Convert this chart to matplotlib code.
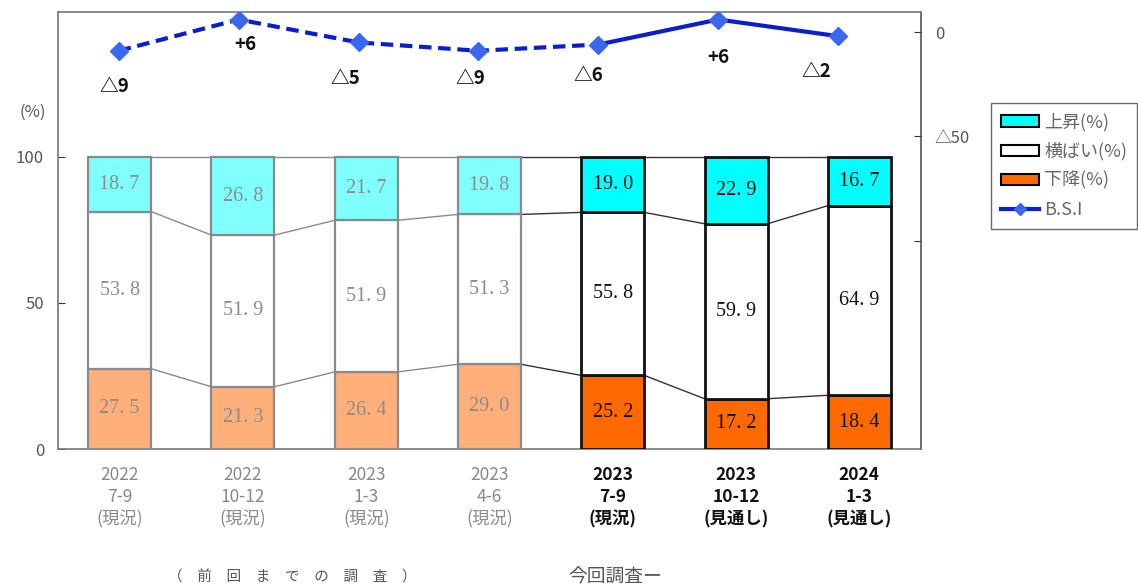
import matplotlib
matplotlib.use("Agg")
import matplotlib.pyplot as plt
from matplotlib.patches import Patch
from matplotlib.lines import Line2D
import numpy as np

# ---- data ----
periods = ["2022\n7-9\n(現況)", "2022\n10-12\n(現況)", "2023\n1-3\n(現況)", "2023\n4-6\n(現況)",
           "2023\n7-9\n(現況)", "2023\n10-12\n(見通し)", "2024\n1-3\n(見通し)"]
rise = [18.7, 26.8, 21.7, 19.8, 19.0, 22.9, 16.7]
flat = [53.8, 51.9, 51.9, 51.3, 55.8, 59.9, 64.9]
fall = [27.5, 21.3, 26.4, 29.0, 25.2, 17.2, 18.4]
bsi = [-9, 6, -5, -9, -6, 6, -2]
n_previous = 4  # surveys before the current one

# ---- styles ----
JP = ["Noto Sans CJK JP", "DejaVu Sans"]
SERIF = ["Liberation Serif", "DejaVu Serif"]
old_style = dict(up="#80FFFF", down="#FFB07A", edge="#8A8A8A", text="#8C8C8C", lw=1.6)
new_style = dict(up="#00FFFF", down="#FF6A00", edge="#111111", text="#111111", lw=2.0)
bsi_label_offsets = [(-4, -36), (7, -25), (-13, -36), (-8, -28), (-10, -31), (0, -38), (-22, -35)]

W, H = 1138, 587
fig = plt.figure(figsize=(W / 100, H / 100), dpi=100)
pos = [58 / W, 1 - 449 / H, (921 - 58) / W, (449 - 12) / H]
ax = fig.add_axes(pos)

x = np.arange(len(periods))
bw = 0.51
for i in x:
    st = old_style if i < n_previous else new_style
    bottoms = [0, fall[i], fall[i] + flat[i]]
    heights = [fall[i], flat[i], rise[i]]
    colors = [st["down"], "white", st["up"]]
    for b, h, c in zip(bottoms, heights, colors):
        ax.bar(i, h, bottom=b, width=bw, color=c, edgecolor=st["edge"], linewidth=st["lw"], zorder=3)
        ax.text(i, b + h / 2, f"{h:.1f}".replace(".", ". "), ha="center", va="center",
                fontsize=14.5, color=st["text"], family=SERIF, zorder=4)

# connector lines between adjacent bars
for i in x[:-1]:
    c = "#8A8A8A" if i + 1 < n_previous else "#333333"
    for lv0, lv1 in [(fall[i], fall[i + 1]),
                     (fall[i] + flat[i], fall[i + 1] + flat[i + 1]),
                     (100, 100)]:
        ax.plot([i + bw / 2, i + 1 - bw / 2], [lv0, lv1], color=c, lw=1.0, zorder=2)

ax.set_xlim(-0.5, 6.5)
ax.set_ylim(0, 149.6)
ax.set_yticks([0, 50, 100])
ax.set_yticklabels(["0", "50", "100"], family=JP, fontsize=12, color="#555555")
ax.tick_params(axis="y", direction="in", length=5, pad=10, color="#333333")
ax.set_xticks(x)
ax.set_xticklabels(periods, family=JP, fontsize=12.5, linespacing=1.3)
ax.tick_params(axis="x", length=0, pad=12)
for i, lab in enumerate(ax.get_xticklabels()):
    if i < n_previous:
        lab.set_color("#888888")
    else:
        lab.set_color("#111111")
        lab.set_fontweight("bold")
for s in ax.spines.values():
    s.set_color("#777777")
    s.set_linewidth(1.2)
ax.spines["right"].set_color("#555555")

# B.S.I. line on its own right-hand scale
ax2 = fig.add_axes(pos, frameon=False)
ax2.set_xlim(-0.506, 6.69)
ax2.set_ylim(-200, 9.6)
ax2.xaxis.set_visible(False)
ax2.yaxis.tick_right()
ax2.set_yticks([0, -50, -100])
ax2.set_yticklabels(["0", "△50", ""], family=JP, fontsize=12, color="#555555")
ax2.tick_params(axis="y", direction="in", length=5, pad=10, color="#333333")
line_c, mark_c = "#0A1FCC", "#3A66F0"
ax2.plot(x[:5], bsi[:5], color=line_c, lw=3, ls=(0, (3, 1.6)), zorder=5)
ax2.plot(x[4:], bsi[4:], color=line_c, lw=3, zorder=5)
ax2.plot(x, bsi, ls="none", marker="D", ms=9, color=mark_c, zorder=6)
for xi, v, off in zip(x, bsi, bsi_label_offsets):
    txt = f"+{v}" if v > 0 else f"△{abs(v)}"
    ax2.annotate(txt, (xi, v), xytext=off, textcoords="offset pixels", ha="center", va="center",
                 fontsize=13.5, fontweight="bold", family=JP, color="#111111")

fig.text(33 / W, 1 - 112 / H, "(%)", ha="center", va="center", family=JP, fontsize=12, color="#555555")

legend_items = [
    Patch(facecolor=new_style["up"], edgecolor="black", linewidth=1.5, label="上昇(%)"),
    Patch(facecolor="white", edgecolor="black", linewidth=1.5, label="横ばい(%)"),
    Patch(facecolor=new_style["down"], edgecolor="black", linewidth=1.5, label="下降(%)"),
    Line2D([0], [0], color=line_c, lw=3, marker="D", ms=6, markerfacecolor=mark_c,
           markeredgecolor=mark_c, label="B.S.I"),
]
leg = fig.legend(handles=legend_items, loc="upper left", bbox_to_anchor=(991 / W, 1 - 103 / H),
                 prop={"family": JP, "size": 13}, frameon=True, fancybox=False,
                 edgecolor="#444444", handlelength=2.1, handleheight=0.6, handletextpad=0.3,
                 labelspacing=0.6, borderpad=0.55, borderaxespad=0)
leg.get_frame().set_linewidth(1.0)
for t in leg.get_texts():
    t.set_color("#666666")

fig.text(292 / W, 1 - 577 / H, "（　前　回　ま　で　の　調　査　）", ha="center", va="center",
         family=JP, fontsize=10.5, color="#555555")
fig.text(615 / W, 1 - 577 / H, "今回調査ー", ha="center", va="center",
         family=JP, fontsize=13.5, color="#555555")

fig.savefig("out.png", dpi=100)
